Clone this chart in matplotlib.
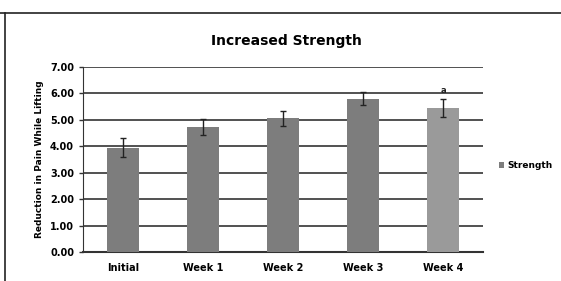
import numpy as np
import matplotlib.pyplot as plt
from matplotlib.lines import Line2D

categories = ['Initial', 'Week 1', 'Week 2', 'Week 3', 'Week 4']
strength = [3.95, 4.73, 5.05, 5.80, 5.45]
errors = [0.35, 0.30, 0.28, 0.25, 0.35]
bar_colors = ['#7d7d7d', '#7d7d7d', '#7d7d7d', '#7d7d7d', '#9a9a9a']

fig = plt.figure(figsize=(5.61, 2.81), dpi=100)
ax = fig.add_axes([0.148, 0.103, 0.713, 0.659])

x = np.arange(len(categories))
ax.bar(x, strength, width=0.4, color=bar_colors, zorder=3, label='Strength')
ax.errorbar(x, strength, yerr=errors, fmt='none', ecolor='#222222',
            elinewidth=1, capsize=2, zorder=4)
ax.text(x[4], strength[4] + errors[4] + 0.15, 'a', ha='center', va='bottom',
        fontsize=6, fontweight='bold', color='#222222')

ax.set_xlim(-0.5, len(categories) - 0.5)
ax.set_ylim(0, 7)
ax.set_yticks(np.arange(0, 8, 1))
ax.set_yticklabels(['%.2f' % v for v in np.arange(0, 8, 1)], fontsize=7,
                   fontweight='bold')
ax.set_xticks(x)
ax.set_xticklabels(categories, fontsize=7, fontweight='bold')
ax.tick_params(axis='x', length=0, pad=8)
ax.tick_params(axis='y', length=3, width=1, color='#333333')
ax.yaxis.grid(True, color='#333333', linewidth=1.2, zorder=0)
ax.set_axisbelow(True)
for side in ['top', 'right']:
    ax.spines[side].set_visible(False)
ax.spines['left'].set_color('#333333')
ax.spines['bottom'].set_color('#333333')
ax.spines['bottom'].set_linewidth(1.5)

ax.set_ylabel('Reduction in Pain While Lifting', fontsize=6.5, fontweight='bold')
fig.text(0.51, 0.855, 'Increased Strength', ha='center', va='center',
         fontsize=10, fontweight='bold')

handles, labels = ax.get_legend_handles_labels()
fig.legend(handles, labels, loc='center left', bbox_to_anchor=(0.875, 0.41),
           frameon=False, fontsize=6.5, handlelength=0.6, handleheight=0.6,
           handletextpad=0.3, prop={'weight': 'bold', 'size': 6.5})

# chart frame edges
fig.add_artist(Line2D([0.0, 1.0], [0.955, 0.955], color='#222222', linewidth=1.2))
fig.add_artist(Line2D([0.009, 0.009], [0.0, 0.955], color='#222222', linewidth=1.2))

fig.savefig('out.png', dpi=100)
